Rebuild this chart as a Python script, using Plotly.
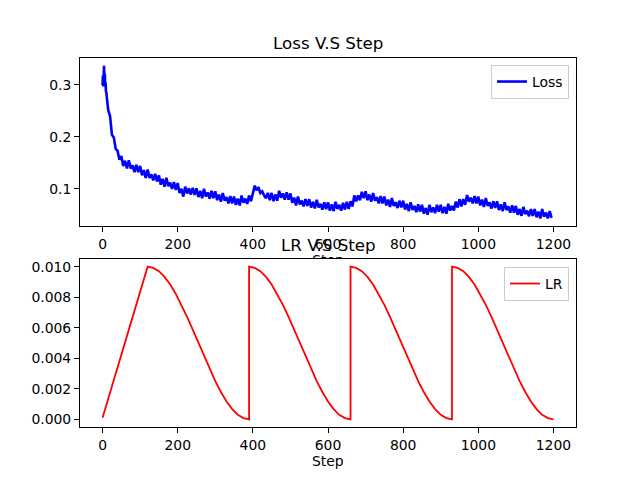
import plotly.graph_objects as go

# ---------------- data ----------------
loss_steps = list(range(0, 10)) + list(range(10, 1200, 5))
loss_values = [
    0.300, 0.318, 0.297, 0.325, 0.337, 0.310, 0.322, 0.298, 0.305, 0.288,
    0.286, 0.252, 0.240, 0.204, 0.199, 0.177, 0.173, 0.156,
    0.163, 0.144, 0.154, 0.139, 0.155, 0.139, 0.145, 0.132, 0.146, 0.132,
    0.144, 0.126, 0.136, 0.121, 0.137, 0.121, 0.128, 0.116, 0.129, 0.114,
    0.126, 0.108, 0.119, 0.104, 0.121, 0.105, 0.112, 0.100, 0.113, 0.098,
    0.111, 0.092, 0.100, 0.085, 0.104, 0.091, 0.101, 0.089, 0.102, 0.088,
    0.101, 0.084, 0.096, 0.082, 0.100, 0.085, 0.093, 0.081, 0.096, 0.082,
    0.095, 0.078, 0.089, 0.075, 0.092, 0.077, 0.084, 0.072, 0.086, 0.072,
    0.085, 0.069, 0.081, 0.068, 0.087, 0.073, 0.081, 0.071, 0.087, 0.076,
    0.094, 0.106, 0.097, 0.103, 0.092, 0.095, 0.087, 0.082, 0.092, 0.078,
    0.092, 0.076, 0.089, 0.077, 0.096, 0.083, 0.091, 0.079, 0.093, 0.079,
    0.091, 0.073, 0.083, 0.068, 0.085, 0.070, 0.077, 0.066, 0.080, 0.067,
    0.080, 0.064, 0.075, 0.062, 0.079, 0.064, 0.071, 0.060, 0.074, 0.061,
    0.074, 0.058, 0.070, 0.057, 0.075, 0.061, 0.069, 0.058, 0.073, 0.060,
    0.075, 0.061, 0.076, 0.066, 0.087, 0.076, 0.087, 0.078, 0.094, 0.082,
    0.095, 0.078, 0.089, 0.075, 0.092, 0.077, 0.084, 0.072, 0.086, 0.072,
    0.085, 0.068, 0.079, 0.065, 0.082, 0.067, 0.074, 0.063, 0.077, 0.064,
    0.077, 0.060, 0.071, 0.057, 0.074, 0.059, 0.067, 0.055, 0.070, 0.056,
    0.069, 0.052, 0.063, 0.050, 0.069, 0.055, 0.064, 0.053, 0.069, 0.056,
    0.069, 0.053, 0.065, 0.052, 0.071, 0.058, 0.067, 0.058, 0.075, 0.064,
    0.080, 0.066, 0.080, 0.069, 0.088, 0.075, 0.083, 0.072, 0.086, 0.072,
    0.085, 0.068, 0.079, 0.065, 0.082, 0.067, 0.074, 0.062, 0.076, 0.063,
    0.076, 0.059, 0.070, 0.057, 0.074, 0.059, 0.066, 0.054, 0.068, 0.054,
    0.067, 0.050, 0.061, 0.048, 0.065, 0.051, 0.058, 0.047, 0.061, 0.048,
    0.061, 0.045, 0.056, 0.043, 0.061, 0.046, 0.054, 0.043, 0.057, 0.044,
]
assert len(loss_steps) == len(loss_values)

lr_steps = ([0] + list(range(120, 391, 15)) + list(range(390, 661, 15))
            + list(range(660, 931, 15)) + list(range(930, 1201, 15)))
lr_values = [
    0.00010,
    0.01000, 0.00992, 0.00970, 0.00933, 0.00883, 0.00821, 0.00750, 0.00671, 0.00587, 0.00500,
    0.00413, 0.00329, 0.00250, 0.00179, 0.00117, 0.00067, 0.00030, 0.00008, 0.00000,
    0.01000, 0.00992, 0.00970, 0.00933, 0.00883, 0.00821, 0.00750, 0.00671, 0.00587, 0.00500,
    0.00413, 0.00329, 0.00250, 0.00179, 0.00117, 0.00067, 0.00030, 0.00008, 0.00000,
    0.01000, 0.00992, 0.00970, 0.00933, 0.00883, 0.00821, 0.00750, 0.00671, 0.00587, 0.00500,
    0.00413, 0.00329, 0.00250, 0.00179, 0.00117, 0.00067, 0.00030, 0.00008, 0.00000,
    0.01000, 0.00992, 0.00970, 0.00933, 0.00883, 0.00821, 0.00750, 0.00671, 0.00587, 0.00500,
    0.00413, 0.00329, 0.00250, 0.00179, 0.00117, 0.00067, 0.00030, 0.00008, 0.00000,
]
assert len(lr_steps) == len(lr_values)

x_ticks = [0, 200, 400, 600, 800, 1000, 1200]
loss_ticks = [0.1, 0.2, 0.3]
lr_ticks = [0.000, 0.002, 0.004, 0.006, 0.008, 0.010]

# ---------------- figure ----------------
FONT = "DejaVu Sans"
TICK_PX = 13.9
TITLE_PX = 16.7

fig = go.Figure()
fig.add_trace(go.Scatter(x=loss_steps, y=loss_values, mode="lines", name="Loss",
                         line=dict(color="#0000ff", width=2.6),
                         xaxis="x", yaxis="y", legend="legend"))
fig.add_trace(go.Scatter(x=lr_steps, y=lr_values, mode="lines", name="LR",
                         line=dict(color="#ff0000", width=1.8),
                         xaxis="x2", yaxis="y2", legend="legend2"))
# partially hidden "Step" label of the upper axes (clipped by an invisible strip)
fig.add_trace(go.Scatter(x=[600], y=[-3], mode="text", text=["Step"],
                         textfont=dict(family=FONT, size=TICK_PX, color="black"),
                         cliponaxis=True, showlegend=False, hoverinfo="skip",
                         xaxis="x3", yaxis="y3"))

axis_common = dict(showgrid=False, zeroline=False, showline=True, linecolor="black",
                   linewidth=1, mirror=True, ticks="outside", ticklen=5, tickwidth=1,
                   tickcolor="black", tickfont=dict(family=FONT, size=TICK_PX, color="black"))

# page body has an 8px margin, so the figure is 624x464 placed at (8, 8)
H_PLOT = 369.0
top_dom = [(427 - 226) / H_PLOT, 1.0]
bot_dom = [0.0, (427 - 259) / H_PLOT]

fig.update_layout(
    width=624, height=464,
    margin=dict(l=72, r=56, t=50, b=45),
    paper_bgcolor="white", plot_bgcolor="white",
    font=dict(family=FONT, size=TICK_PX, color="black"),
    xaxis=dict(domain=[0, 1], anchor="y", range=[-60, 1260], tickvals=x_ticks, **axis_common),
    yaxis=dict(domain=top_dom, anchor="x", range=[0.0283, 0.352], tickvals=loss_ticks,
               tickformat=".1f", **axis_common),
    xaxis2=dict(domain=[0, 1], anchor="y2", range=[-60, 1260], tickvals=x_ticks, **axis_common),
    yaxis2=dict(domain=bot_dom, anchor="x2", range=[-0.0005, 0.0105], tickvals=lr_ticks,
                tickformat=".3f", **axis_common),
    xaxis3=dict(domain=[0, 1], anchor="y3", range=[-60, 1260], visible=False, fixedrange=True),
    yaxis3=dict(domain=[(427 - 259) / H_PLOT, (427 - 226) / H_PLOT], anchor="x3",
                range=[0, 33], visible=False, fixedrange=True),
    legend=dict(x=(569 - 80) / 496.0, xanchor="right", y=(427 - 65) / H_PLOT, yanchor="top",
                bgcolor="rgba(255,255,255,0.8)", bordercolor="#cccccc", borderwidth=1,
                font=dict(family=FONT, size=TICK_PX), itemwidth=30),
    legend2=dict(x=(569 - 80) / 496.0, xanchor="right", y=(427 - 267) / H_PLOT, yanchor="top",
                 bgcolor="rgba(255,255,255,0.8)", bordercolor="#cccccc", borderwidth=1,
                 font=dict(family=FONT, size=TICK_PX), itemwidth=30),
    annotations=[
        dict(text="Loss V.S Step", xref="paper", yref="paper", x=0.5, y=(427 - 43) / H_PLOT,
             xanchor="center", yanchor="middle", showarrow=False,
             font=dict(family=FONT, size=TITLE_PX, color="black")),
        dict(text="LR V.S Step", xref="paper", yref="paper", x=0.5, y=(427 - 245) / H_PLOT,
             xanchor="center", yanchor="middle", showarrow=False,
             font=dict(family=FONT, size=TITLE_PX, color="black")),
        dict(text="Step", xref="paper", yref="paper", x=0.5, y=(427 - 461) / H_PLOT,
             xanchor="center", yanchor="middle", showarrow=False,
             font=dict(family=FONT, size=TICK_PX, color="black")),
    ],
)

fig.write_html("out.html")
